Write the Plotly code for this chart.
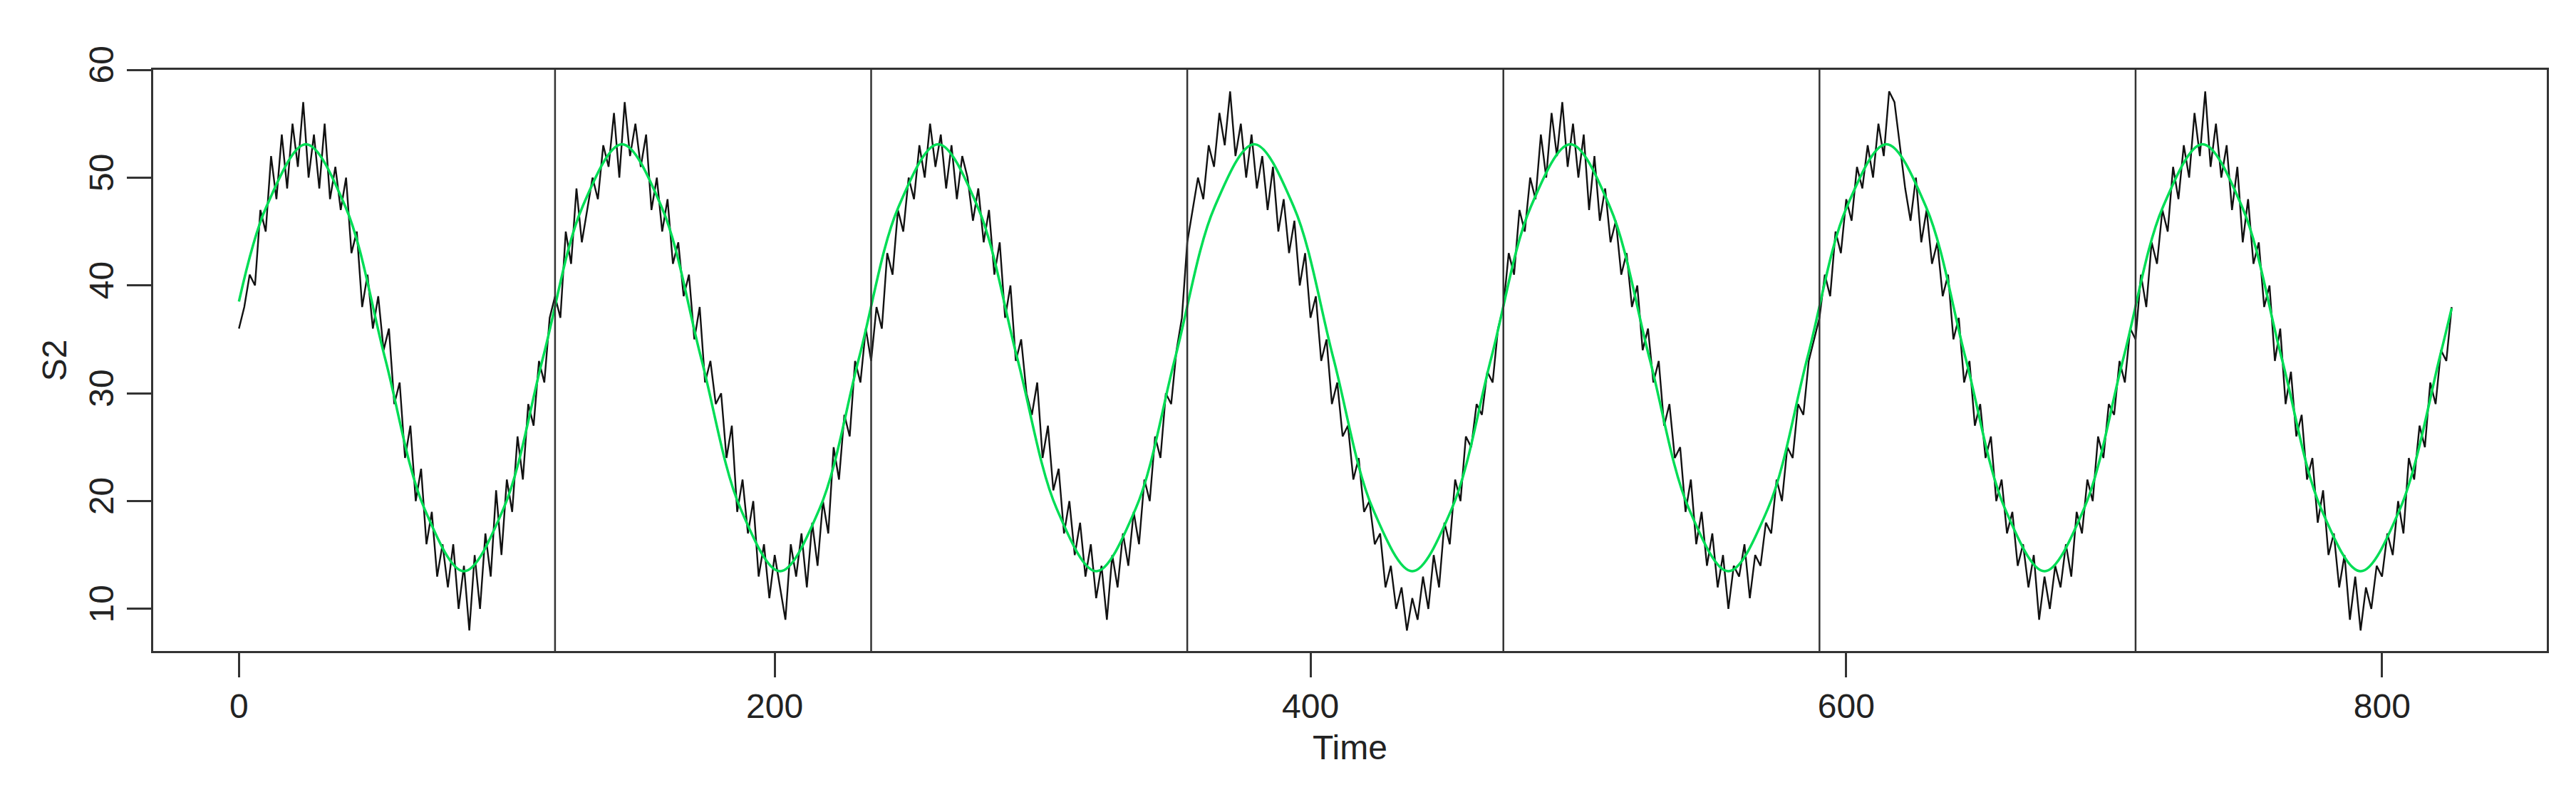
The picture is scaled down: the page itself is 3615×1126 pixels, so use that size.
import plotly.graph_objects as go

TIME_STEP = 2
S2 = [
    # cycle 1
    36, 38, 41, 40, 47, 45, 52, 48, 54, 49, 55, 51, 57, 50, 54, 49, 55, 48, 51, 47,
    50, 43, 45, 38, 41, 36, 39, 34, 36, 29, 31, 24, 27, 20, 23, 16, 19, 13, 16, 12,
    16, 10, 14, 8, 15, 10, 17, 13, 21, 15, 22, 19, 26, 22, 29, 27, 33, 31, 37,
    # cycle 2
    39, 37, 45, 42, 49, 44, 47, 50, 48, 53, 51, 56, 50, 57, 52, 55, 51, 54, 47, 50,
    45, 48, 42, 44, 39, 41, 35, 38, 31, 33, 29, 30, 24, 27, 19, 22, 17, 20, 13, 16,
    11, 15, 12, 9, 16, 13, 17, 12, 18, 14, 20, 17, 25, 22, 28, 26, 33, 31, 36,
    # cycle 3
    33, 38, 36, 43, 41, 47, 45, 50, 48, 53, 50, 55, 51, 54, 49, 53, 48, 52, 50, 46,
    49, 44, 47, 41, 44, 37, 40, 33, 35, 30, 28, 31, 24, 27, 21, 23, 17, 20, 15, 18,
    13, 16, 11, 14, 9, 15, 12, 17, 14, 19, 16, 22, 20, 26, 24, 30, 29, 34, 37,
    # cycle 4
    44, 47, 50, 48, 53, 51, 56, 53, 58, 52, 55, 50, 54, 49, 52, 47, 51, 45, 48, 43,
    46, 40, 43, 37, 39, 33, 35, 29, 31, 26, 27, 22, 24, 19, 20, 16, 17, 12, 14, 10,
    12, 8, 11, 9, 13, 10, 15, 12, 18, 16, 22, 20, 26, 25, 29, 28, 32, 31, 36,
    # cycle 5
    38, 43, 41, 47, 45, 50, 48, 54, 50, 56, 52, 57, 51, 55, 50, 54, 47, 52, 46, 49,
    44, 46, 41, 43, 38, 40, 34, 36, 31, 33, 27, 29, 24, 25, 19, 22, 16, 19, 14, 17,
    12, 15, 10, 14, 13, 16, 11, 15, 14, 18, 17, 22, 20, 25, 24, 29, 28, 33, 35,
    # cycle 6
    37, 41, 39, 45, 43, 48, 46, 51, 49, 53, 50, 55, 52, 58, 57, 53, 49, 46, 50, 44,
    47, 42, 44, 39, 41, 35, 37, 31, 33, 27, 29, 24, 26, 20, 22, 17, 19, 14, 16, 12,
    15, 9, 13, 10, 14, 12, 16, 13, 19, 17, 22, 20, 26, 24, 29, 28, 33, 31, 36,
    # cycle 7
    35, 41, 38, 44, 42, 47, 45, 51, 48, 53, 50, 56, 52, 58, 51, 55, 50, 53, 47, 51,
    44, 48, 42, 44, 38, 40, 33, 36, 29, 32, 26, 28, 22, 24, 18, 21, 15, 17, 12, 15,
    9, 13, 8, 12, 10, 14, 13, 17, 15, 20, 17, 24, 22, 27, 25, 31, 29, 34, 33,
    38,
]
TIME = [i * TIME_STEP for i in range(len(S2))]

# fitted seasonal curve, read at eighth-period points
FIT_TIME = [0] + [10.25 + 14.75 * i for i in range(56)] + [826]
FIT_CYCLE = [47.3, 53.1, 47.3, 33.3, 19.3, 13.5, 19.3, 33.3]
FIT = [38.5] + [FIT_CYCLE[i % 8] for i in range(56)] + [37.9]

BREAKS = [118, 236, 354, 472, 590, 708]

FONT = "Liberation Sans, Arial, sans-serif"

fig = go.Figure()
fig.add_trace(go.Scatter(x=TIME, y=S2, mode="lines",
                         line=dict(color="#111111", width=2.4), showlegend=False))
fig.add_trace(go.Scatter(x=FIT_TIME, y=FIT, mode="lines",
                         line=dict(color="#00DD55", width=3.5, shape="spline"),
                         showlegend=False))
for b in BREAKS:
    fig.add_vline(x=b, line=dict(color="#333333", width=2.5))

fig.update_xaxes(
    range=[-32, 861.5], tickvals=[0, 200, 400, 600, 800],
    ticks="outside", ticklen=34, tickwidth=2.5, tickcolor="#333",
    showline=True, mirror=True, linecolor="#333", linewidth=2.5,
    showgrid=False, zeroline=False,
    tickfont=dict(size=48, color="#222"),
    title=dict(text="Time", font=dict(size=48, color="#222"), standoff=16),
)
fig.update_yaxes(
    range=[6.1, 60], tickvals=[10, 20, 30, 40, 50, 60], tickangle=-90,
    ticks="outside", ticklen=34, tickwidth=2.5, tickcolor="#333",
    showline=True, mirror=True, linecolor="#333", linewidth=2.5,
    showgrid=False, zeroline=False,
    tickfont=dict(size=48, color="#222"),
    title=dict(text="S2", font=dict(size=48, color="#222"), standoff=8),
)
fig.update_layout(
    width=3615, height=1126,
    margin=dict(l=207, r=49, t=90, b=220),
    plot_bgcolor="white", paper_bgcolor="white",
    font=dict(family=FONT),
)
fig.write_html("out.html")
